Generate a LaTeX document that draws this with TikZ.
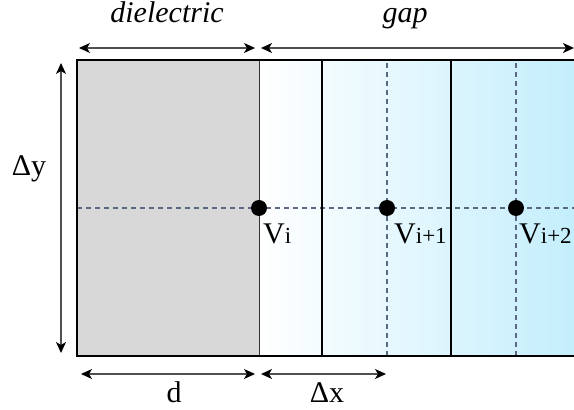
\documentclass[tikz,border=0pt]{standalone}
\usepackage{fontspec}
\setmainfont{Liberation Serif}
\usetikzlibrary{arrows.meta}
\definecolor{dielgray}{RGB}{216,216,216}
\definecolor{gapcyan}{RGB}{196,238,252}
\definecolor{gridline}{RGB}{90,104,128}
\definecolor{dimline}{RGB}{80,80,80}
\tikzset{
  dimarrow/.style={draw=dimline, line width=1.4pt, {Stealth[length=11pt,width=10pt,inset=3pt,color=black]}-{Stealth[length=11pt,width=10pt,inset=3pt,color=black]}},
  gridstyle/.style={draw=gridline, line width=1.1pt, dash pattern=on 5pt off 4pt},
  thickwall/.style={draw=black, line width=2.2pt},
  thinwall/.style={draw=black!80, line width=1pt},
  dotstyle/.style={circle, fill=black, minimum size=16pt, inner sep=0pt},
  bigtext/.style={font=\fontsize{30}{34}\selectfont, inner sep=0pt},
}
\newcommand{\vsub}[1]{V{\fontsize{23}{26}\selectfont #1}}
\begin{document}
\begin{tikzpicture}[x=1pt,y=1pt]
\useasboundingbox (0,0) rectangle (574,410);
% regions
\fill[dielgray] (77,54) rectangle (259,350);
\shade[left color=white, right color=gapcyan] (259,54) rectangle (574,350);
% grid
\draw[gridstyle] (77,202) -- (574,202);
\draw[gridstyle] (387,54) -- (387,350);
\draw[gridstyle] (516,54) -- (516,350);
% walls
\draw[thinwall] (259,54) -- (259,350);
\draw[thickwall] (322,54) -- (322,350);
\draw[thickwall] (451,54) -- (451,350);
\draw[thickwall] (574,350) -- (77,350) -- (77,54) -- (574,54);
% dots
\node[dotstyle] (v0) at (259,202) {};
\node[dotstyle] (v1) at (387,202) {};
\node[dotstyle] (v2) at (516,202) {};
\node[bigtext, anchor=base west] (l0) at (263,166) {\vsub{i}};
\node[bigtext, anchor=base west] (l1) at (394,166) {\vsub{i+1}};
\node[bigtext, anchor=base west] (l2) at (519,166) {\vsub{i+2}};
% dimension arrows
\coordinate (dA) at (79,362);
\coordinate (dB) at (255,362);
\coordinate (gA) at (261,362);
\coordinate (gB) at (574,362);
\draw[dimarrow] (dA) -- (dB);
\draw[dimarrow] (gA) -- (gB);
\coordinate (yA) at (61,347);
\coordinate (yB) at (61,57);
\draw[dimarrow] (yA) -- (yB);
\coordinate (xA) at (81,36);
\coordinate (xB) at (255,36);
\coordinate (xC) at (261,36);
\coordinate (xD) at (386,36);
\draw[dimarrow] (xA) -- (xB);
\draw[dimarrow] (xC) -- (xD);
% labels
\node[bigtext, anchor=base] (tdiel) at (167,387) {\itshape dielectric};
\node[bigtext, anchor=base] (tgap) at (405,387) {\itshape gap};
\node[bigtext, anchor=base] (tdy) at (29,234) {Δy};
\node[bigtext, anchor=base] (td) at (174,7) {d};
\node[bigtext, anchor=base] (tdx) at (327,7) {Δx};
\end{tikzpicture}
\end{document}
